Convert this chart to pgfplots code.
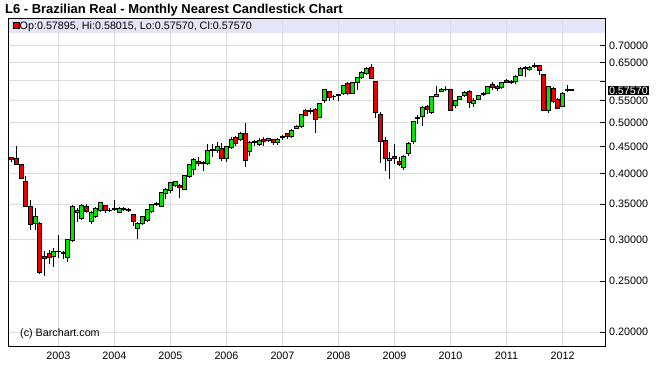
\documentclass[border=0pt]{standalone}
\usepackage{pgfplots}
\pgfplotsset{compat=1.18}
\usepackage{pgfplotstable}
\usepackage{fontspec}
\setmainfont{Liberation Sans}
\definecolor{cgreen}{RGB}{0,230,0}
\definecolor{cred}{RGB}{230,0,0}
\definecolor{gridc}{RGB}{220,220,220}
\definecolor{bandc}{RGB}{218,218,245}
\pgfplotstableread{
m O H L C
-10 0.429 0.431 0.420 0.425
-9 0.427 0.451 0.415 0.416
-8 0.416 0.418 0.390 0.392
-7 0.387 0.396 0.345 0.347
-6 0.347 0.356 0.313 0.320
-5 0.321 0.344 0.313 0.331
-4 0.322 0.324 0.258 0.259
-3 0.278 0.285 0.255 0.276
-2 0.282 0.286 0.269 0.277
-1 0.278 0.289 0.266 0.284
0 0.284 0.306 0.277 0.285
1 0.283 0.285 0.275 0.282
2 0.277 0.301 0.272 0.300
3 0.298 0.348 0.297 0.347
4 0.337 0.344 0.324 0.341
5 0.329 0.351 0.327 0.348
6 0.346 0.350 0.337 0.339
7 0.325 0.340 0.321 0.338
8 0.332 0.345 0.330 0.343
9 0.340 0.353 0.338 0.352
10 0.348 0.349 0.337 0.340
11 0.341 0.344 0.338 0.341
12 0.342 0.357 0.340 0.343
13 0.337 0.345 0.336 0.344
14 0.343 0.346 0.340 0.342
15 0.342 0.344 0.338 0.341
16 0.334 0.335 0.318 0.324
17 0.314 0.324 0.300 0.322
18 0.322 0.332 0.320 0.331
19 0.326 0.343 0.324 0.342
20 0.339 0.351 0.337 0.350
21 0.350 0.353 0.347 0.351
22 0.347 0.369 0.346 0.368
23 0.367 0.375 0.358 0.373
24 0.371 0.386 0.367 0.384
25 0.380 0.388 0.378 0.386
26 0.380 0.382 0.360 0.376
27 0.374 0.398 0.372 0.396
28 0.395 0.418 0.393 0.416
29 0.407 0.428 0.397 0.426
30 0.421 0.431 0.414 0.418
31 0.420 0.422 0.404 0.419
32 0.418 0.455 0.415 0.443
33 0.443 0.456 0.430 0.444
34 0.442 0.459 0.438 0.451
35 0.447 0.457 0.422 0.428
36 0.428 0.452 0.420 0.450
37 0.448 0.470 0.446 0.465
38 0.468 0.472 0.452 0.456
39 0.464 0.480 0.462 0.476
40 0.476 0.500 0.411 0.424
41 0.441 0.461 0.433 0.459
42 0.458 0.463 0.452 0.460
43 0.454 0.468 0.451 0.462
44 0.464 0.470 0.452 0.460
45 0.462 0.468 0.460 0.466
46 0.464 0.466 0.454 0.459
47 0.459 0.468 0.454 0.465
48 0.469 0.473 0.463 0.470
49 0.476 0.478 0.466 0.471
50 0.471 0.486 0.467 0.483
51 0.488 0.495 0.486 0.492
52 0.491 0.519 0.489 0.518
53 0.527 0.530 0.514 0.517
54 0.525 0.532 0.520 0.527
55 0.529 0.532 0.478 0.508
56 0.512 0.545 0.510 0.543
57 0.551 0.579 0.545 0.577
58 0.572 0.575 0.549 0.558
59 0.560 0.565 0.553 0.560
60 0.563 0.568 0.549 0.566
61 0.568 0.590 0.565 0.588
62 0.593 0.597 0.565 0.567
63 0.569 0.598 0.567 0.596
64 0.596 0.611 0.577 0.609
65 0.610 0.626 0.604 0.622
66 0.620 0.638 0.617 0.633
67 0.636 0.645 0.606 0.607
68 0.599 0.601 0.510 0.522
69 0.518 0.525 0.419 0.460
70 0.463 0.470 0.404 0.427
71 0.423 0.439 0.391 0.428
72 0.431 0.455 0.418 0.427
73 0.422 0.431 0.413 0.417
74 0.410 0.434 0.407 0.431
75 0.436 0.460 0.433 0.457
76 0.460 0.503 0.455 0.502
77 0.510 0.516 0.497 0.511
78 0.514 0.537 0.492 0.535
79 0.536 0.540 0.520 0.529
80 0.522 0.563 0.520 0.561
81 0.561 0.587 0.559 0.565
82 0.574 0.583 0.571 0.577
83 0.577 0.587 0.575 0.579
84 0.578 0.580 0.526 0.527
85 0.540 0.553 0.532 0.551
86 0.554 0.563 0.552 0.560
87 0.564 0.575 0.560 0.571
88 0.573 0.576 0.532 0.547
89 0.544 0.556 0.535 0.552
90 0.553 0.565 0.552 0.563
91 0.566 0.571 0.562 0.567
92 0.568 0.587 0.566 0.585
93 0.590 0.598 0.578 0.582
94 0.586 0.590 0.575 0.581
95 0.583 0.598 0.580 0.595
96 0.601 0.604 0.594 0.596
97 0.597 0.602 0.593 0.598
98 0.598 0.615 0.593 0.613
99 0.615 0.637 0.612 0.635
100 0.636 0.640 0.610 0.635
101 0.630 0.640 0.627 0.636
102 0.640 0.650 0.635 0.641
103 0.642 0.644 0.615 0.628
104 0.618 0.620 0.526 0.527
105 0.527 0.588 0.522 0.586
106 0.580 0.584 0.545 0.548
107 0.553 0.556 0.530 0.533
108 0.537 0.571 0.535 0.568
109 0.575 0.589 0.571 0.578
110 0.57895 0.58015 0.5757 0.5757
}\ohlc
\begin{document}
\begin{tikzpicture}
\path[use as bounding box] (0,0) rectangle (659bp,370bp);
\node[anchor=base west, inner sep=0pt, font=\fontsize{13}{15}\selectfont\bfseries] at (5bp,356bp) {L6 - Brazilian Real - Monthly Nearest Candlestick Chart};
\begin{axis}[at={(8.5bp,24bp)}, anchor=south west, scale only axis,
  width=596.5bp, height=328bp,
  xmin=-10.7, xmax=117.1, ymode=log, ymin=0.18812, ymax=0.7906,
  xtick={0,12,24,36,48,60,72,84,96,108},
  xticklabels={2003,2004,2005,2006,2007,2008,2009,2010,2011,2012},
  ytick={0.2,0.25,0.3,0.35,0.4,0.45,0.5,0.55,0.6,0.65,0.7},
  yticklabels={0.20000,0.25000,0.30000,0.35000,0.40000,0.45000,0.50000,0.55000,,0.65000,0.70000},
  minor ytick={}, minor xtick={},
  ytick pos=right, yticklabel pos=right, tick align=inside, major tick length=5bp,
  xtick style={draw=none}, ytick style={black, line width=0.8bp},
  grid=major, major grid style={gridc, line width=1bp},
  axis line style={black, line width=1bp},
  tick label style={font=\fontsize{10.8}{12}\selectfont},
  yticklabel style={anchor=west, inner sep=0pt, xshift=4bp},
  xticklabel style={anchor=north, inner sep=0pt, yshift=-6bp},
  clip=false]
\fill[bandc, fill opacity=0.7] (rel axis cs:0,1) rectangle ([yshift=-15bp]rel axis cs:1,1);
\draw[black, line width=1bp] ([yshift=-15bp]rel axis cs:0,1) -- (rel axis cs:0,1) -- (rel axis cs:1,1) -- ([yshift=-15bp]rel axis cs:1,1);
\fill[cred, draw=black, line width=0.6bp] ([xshift=4.5bp,yshift=-4.5bp]rel axis cs:0,1) rectangle ++(6bp,-6bp);
\node[anchor=base west, inner sep=0pt, font=\fontsize{10.8}{12}\selectfont] at ([xshift=11bp,yshift=-11.5bp]rel axis cs:0,1) {Op:0.57895, Hi:0.58015, Lo:0.57570, Cl:0.57570};
\node[anchor=base west, inner sep=0pt, font=\fontsize{10.8}{12}\selectfont] at ([xshift=11.5bp,yshift=10bp]rel axis cs:0,0) {(c) Barchart.com};
% wicks
\addplot[draw=none, mark=none, error bars/.cd, y dir=plus, y explicit, error mark=none,
  error bar style={draw=black, line width=1bp}]
  table[x=m, y=L, y error expr=\thisrow{H}-\thisrow{L}] {\ohlc};
% body outline
\addplot[draw=none, mark=none, error bars/.cd, y dir=plus, y explicit, error mark=none,
  error bar style={draw=black, line width=5bp}]
  table[x=m, y expr={min(\thisrow{O},\thisrow{C})}, y error expr={abs(\thisrow{C}-\thisrow{O})}] {\ohlc};
% green fill
\addplot[draw=none, mark=none, error bars/.cd, y dir=plus, y explicit, error mark=none,
  error bar style={draw=cgreen, line width=3bp}]
  table[x=m, y=O, y error expr={max(\thisrow{C}-\thisrow{O},0)}] {\ohlc};
% red fill
\addplot[draw=none, mark=none, error bars/.cd, y dir=plus, y explicit, error mark=none,
  error bar style={draw=cred, line width=3bp}]
  table[x=m, y=C, y error expr={max(\thisrow{O}-\thisrow{C},0)}] {\ohlc};
% open and close edges
\addplot[only marks, mark=-, mark size=2.5bp, mark options={black, line width=1bp}] table[x=m, y=O] {\ohlc};
\addplot[only marks, mark=-, mark size=2.5bp, mark options={black, line width=1bp}] table[x=m, y=C] {\ohlc};
\node[fill=black, text=white, anchor=west, inner xsep=0.8bp, inner ysep=0.8bp, xshift=3bp, font=\fontsize{10.8}{12}\selectfont] at ({rel axis cs:1,0} |- {axis cs:0,0.5757}) {0.57570};
\end{axis}
\end{tikzpicture}
\end{document}
